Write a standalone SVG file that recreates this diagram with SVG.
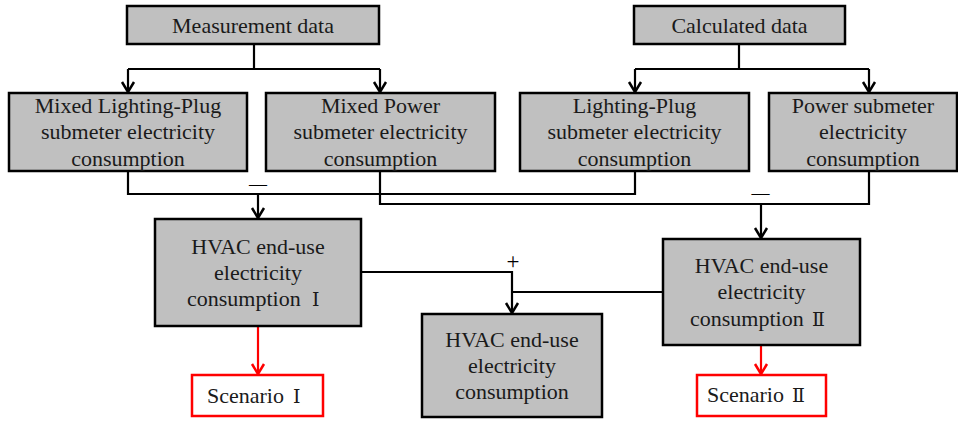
<svg xmlns="http://www.w3.org/2000/svg" width="958" height="425" viewBox="0 0 958 425" font-family="'Liberation Serif', 'DejaVu Serif', serif">
<style>
.box{fill:#c0c0c0;stroke:#000;stroke-width:2.5}
.sc{fill:#fff;stroke:#ff0000;stroke-width:2.5}
text{font-family:'Liberation Serif','DejaVu Serif',serif;font-size:22px;fill:#1a1a1a;text-anchor:middle}
text.st{text-anchor:start}
.rn{font-family:'DejaVu Serif',serif;font-size:19px}
.c{fill:none;stroke:#000;stroke-width:2.2}
.r{fill:none;stroke:#ff0000;stroke-width:2.2}
.sign{font-size:18px;fill:#000}
</style>
<defs>
<marker id="ak" markerUnits="userSpaceOnUse" markerWidth="14" markerHeight="16" viewBox="-12 -8 14 16" refX="0" refY="0" orient="auto">
<path d="M-10,-6 L0,0 L-10,6" fill="none" stroke="#000" stroke-width="2.5"/>
</marker>
<marker id="ar" markerUnits="userSpaceOnUse" markerWidth="14" markerHeight="16" viewBox="-12 -8 14 16" refX="0" refY="0" orient="auto">
<path d="M-10,-6 L0,0 L-10,6" fill="none" stroke="#ff0000" stroke-width="2.5"/>
</marker>
</defs>
<g id="connectors">
<polyline class="c" points="254,44 254,69"/>
<polyline class="c" points="128,69 380,69"/>
<line class="c" x1="128" y1="69" x2="128" y2="92" marker-end="url(#ak)"/>
<line class="c" x1="380" y1="69" x2="380" y2="92" marker-end="url(#ak)"/>
<polyline class="c" points="739,44 739,69"/>
<polyline class="c" points="635,69 869,69"/>
<line class="c" x1="635" y1="69" x2="635" y2="92" marker-end="url(#ak)"/>
<line class="c" x1="869" y1="69" x2="869" y2="92" marker-end="url(#ak)"/>
<polyline class="c" points="128,171 128,194 635,194 635,171"/>
<line class="c" x1="258" y1="194" x2="258" y2="218" marker-end="url(#ak)"/>
<polyline class="c" points="380,171 380,204 869,204 869,171"/>
<line class="c" x1="761" y1="204" x2="761" y2="238" marker-end="url(#ak)"/>
<polyline class="c" points="361,272 512,272 512,313" marker-end="url(#ak)"/>
<polyline class="c" points="663,292 512,292"/>
<line class="r" x1="258" y1="326" x2="258" y2="374" marker-end="url(#ar)"/>
<line class="r" x1="761" y1="345" x2="761" y2="374" marker-end="url(#ar)"/>
<text class="sign" x="258" y="189.500">—</text>
<text class="sign" x="760.500" y="199">—</text>
<text class="sign" x="513" y="269" style="font-size:23px">+</text>
</g>
<g id="measurement">
<rect class="box" x="127" y="6" width="252" height="38"/>
<text x="253" y="33">Measurement data</text>
</g>
<g id="calculated">
<rect class="box" x="634" y="6" width="211" height="38"/>
<text x="739.500" y="33">Calculated data</text>
</g>
<g id="mixed-lp">
<rect class="box" x="9" y="93" width="238" height="78"/>
<text x="128" y="113">Mixed Lighting-Plug</text>
<text x="128" y="139">submeter electricity</text>
<text x="128" y="166">consumption</text>
</g>
<g id="mixed-power">
<rect class="box" x="266" y="93" width="229" height="78"/>
<text x="380.500" y="113">Mixed Power</text>
<text x="380.500" y="139">submeter electricity</text>
<text x="380.500" y="166">consumption</text>
</g>
<g id="lp">
<rect class="box" x="520" y="93" width="229" height="78"/>
<text x="634.500" y="113">Lighting-Plug</text>
<text x="634.500" y="139">submeter electricity</text>
<text x="634.500" y="166">consumption</text>
</g>
<g id="power">
<rect class="box" x="769" y="93" width="188" height="78"/>
<text x="863" y="113">Power submeter</text>
<text x="863" y="139">electricity</text>
<text x="863" y="166">consumption</text>
</g>
<g id="hvac1">
<rect class="box" x="155" y="219" width="206" height="107"/>
<text x="258" y="254">HVAC end-use</text>
<text x="258" y="280">electricity</text>
<text class="st" x="187" y="306">consumption <tspan class="rn" x="312">Ⅰ</tspan></text>
</g>
<g id="hvac2">
<rect class="box" x="663" y="239" width="197" height="106"/>
<text x="761.500" y="273">HVAC end-use</text>
<text x="761.500" y="299">electricity</text>
<text class="st" x="690" y="326">consumption <tspan class="rn" x="812">Ⅱ</tspan></text>
</g>
<g id="hvac">
<rect class="box" x="422" y="314" width="180" height="103"/>
<text x="512" y="347">HVAC end-use</text>
<text x="512" y="373">electricity</text>
<text x="512" y="399">consumption</text>
</g>
<g id="scenario1">
<rect class="sc" x="192" y="375" width="131" height="41"/>
<text class="st" x="207" y="403">Scenario <tspan class="rn" x="293">Ⅰ</tspan></text>
</g>
<g id="scenario2">
<rect class="sc" x="697" y="375" width="129" height="41"/>
<text class="st" x="707" y="402">Scenario <tspan class="rn" x="792">Ⅱ</tspan></text>
</g>
</svg>
